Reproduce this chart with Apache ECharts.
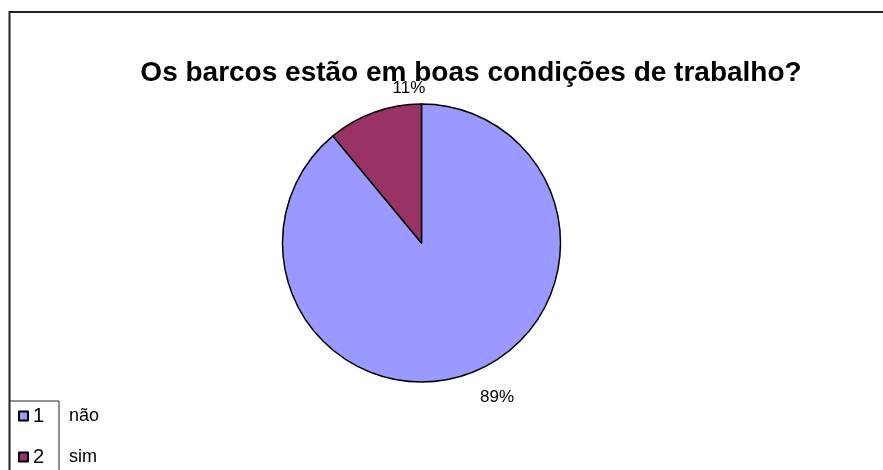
<!DOCTYPE html>
<html>
<head>
<meta charset="utf-8">
<script src="https://cdn.jsdelivr.net/npm/echarts@6/dist/echarts.min.js"></script>
<style>
  html, body { margin: 0; padding: 0; background: #fff; }
  #chart { width: 883px; height: 470px; }
</style>
</head>
<body>
<div id="chart"></div>
<script>
// dados
const categories = ['não', 'sim'];
const values = [89, 11];
const codes = ['1', '2'];
const colors = ['#9999ff', '#993366'];

const chart = echarts.init(document.getElementById('chart'));

// posições dos rótulos (estilo Excel)
const labelPos = [
    { x: 497, y: 397 },
    { x: 409, y: 88 }
];

chart.setOption({
    animation: false,
    textStyle: { fontFamily: 'Liberation Sans, Arial, sans-serif' },
    title: {
        text: 'Os barcos estão em boas condições de trabalho?',
        left: 466,
        top: 54,
        textAlign: 'center',
        textStyle: { fontSize: 28, fontWeight: 'bold', color: '#000' }
    },
    legend: {
        orient: 'vertical',
        left: 18,
        top: 406,
        height: 80,
        padding: 0,
        itemWidth: 9,
        itemHeight: 9,
        itemGap: 21,
        icon: 'rect',
        data: categories,
        formatter: (name) => {
            const i = categories.indexOf(name);
            return '{n|' + codes[i] + '}{t|' + name + '}';
        },
        textStyle: {
            color: '#000',
            fontSize: 18,
            rich: {
                n: { width: 36, fontSize: 20, color: '#000' },
                t: { fontSize: 18, color: '#000' }
            }
        }
    },
    graphic: [
        { type: 'rect', shape: { x: 9.5, y: 12, width: 900, height: 500 }, style: { fill: 'none', stroke: '#222', lineWidth: 2 }, silent: true },
        { type: 'line', shape: { x1: 9, y1: 401, x2: 59, y2: 401 }, style: { stroke: '#222', lineWidth: 1 }, silent: true },
        { type: 'line', shape: { x1: 59, y1: 401, x2: 59, y2: 470 }, style: { stroke: '#222', lineWidth: 1 }, silent: true }
    ],
    series: [
        {
            type: 'pie',
            center: [421.5, 243],
            radius: 139,
            startAngle: 90,
            clockwise: true,
            data: categories.map((c, i) => ({
                name: c,
                value: values[i],
                itemStyle: { color: colors[i] }
            })),
            itemStyle: { borderColor: '#000', borderWidth: 1.5 },
            label: {
                show: true,
                position: 'outside',
                formatter: '{d}%',
                fontSize: 17,
                color: '#000'
            },
            labelLine: { show: false },
            labelLayout: (params) => ({
                x: labelPos[params.dataIndex].x,
                y: labelPos[params.dataIndex].y,
                align: 'center',
                verticalAlign: 'middle'
            }),
            emphasis: { disabled: true }
        }
    ]
});
</script>
</body>
</html>
